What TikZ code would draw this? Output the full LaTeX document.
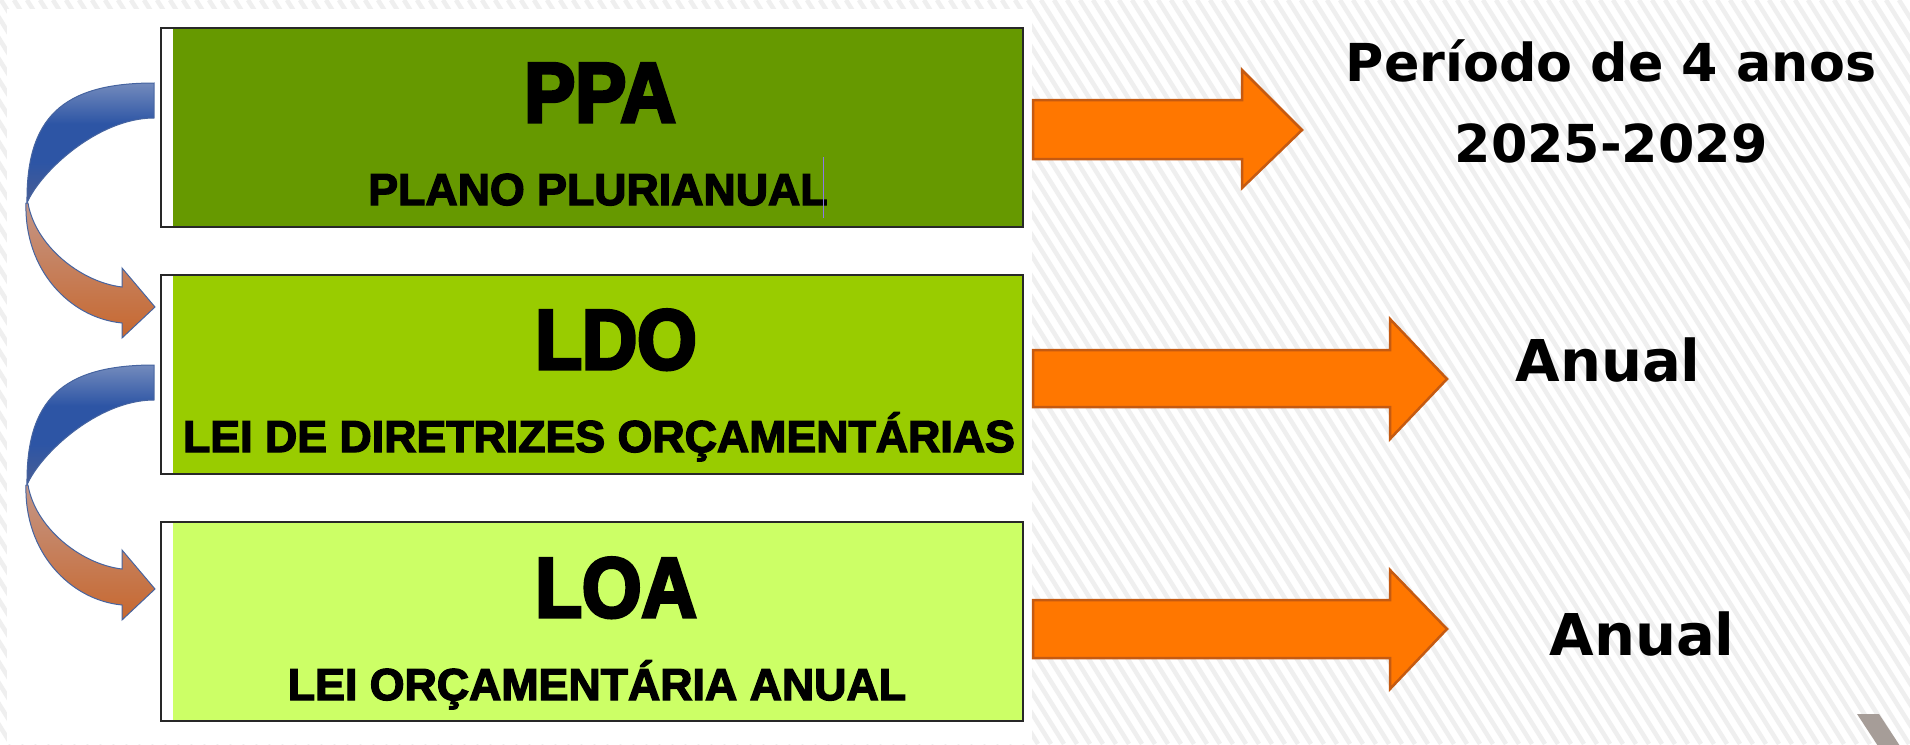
\documentclass[tikz,border=0pt]{standalone}
\usepackage{fontspec}
\newfontfamily\boxfont[FakeBold=3]{Liberation Sans}
\newfontfamily\titlefont[FakeStretch=0.9, FakeBold=4]{Liberation Sans}
\newfontfamily\sidefont{DejaVu Sans}
\definecolor{ppagreen}{RGB}{102,153,0}
\definecolor{ldogreen}{RGB}{153,204,0}
\definecolor{loagreen}{RGB}{204,255,102}
\definecolor{boxline}{RGB}{40,40,40}
\definecolor{arroworange}{RGB}{255,119,0}
\definecolor{arrowedge}{RGB}{197,90,17}
\definecolor{curvetop}{RGB}{185,192,212}
\definecolor{curveblue}{RGB}{45,85,165}
\definecolor{curvemid}{RGB}{95,100,135}
\definecolor{curvepink}{RGB}{196,150,135}
\definecolor{curveorange}{RGB}{200,90,20}
\definecolor{curveedge}{RGB}{70,100,160}
\definecolor{stripegray}{RGB}{239,239,239}
\definecolor{cornergray}{RGB}{166,157,152}
\definecolor{cursorblue}{RGB}{140,120,230}

\pgfdeclareverticalshading{curveupper}{100bp}{color(0bp)=(curvemid); color(12bp)=(curvemid);
    color(42bp)=(curveblue); color(58bp)=(curveblue); color(92bp)=(curvetop); color(100bp)=(curvetop)}
\pgfdeclareverticalshading{curvelower}{100bp}{color(0bp)=(curveorange); color(10bp)=(curveorange);
    color(75bp)=(curvepink); color(100bp)=(curvepink)}

\tikzset{
    box/.style={draw=boxline, line width=2pt, minimum width=862pt, minimum height=199pt, inner sep=0pt,
        path picture={\fill[white] (path picture bounding box.north west)
            rectangle ([xshift=12pt]path picture bounding box.south west);}},
    boxtitle/.style={anchor=base, inner sep=0pt, font=\titlefont\bfseries\fontsize{85}{90}\selectfont},
    boxsub/.style={anchor=base, inner sep=0pt, font=\boxfont\bfseries\fontsize{44.7}{50}\selectfont},
    sidelabel/.style={anchor=base, inner sep=0pt, font=\sidefont\bfseries\fontsize{52.3}{60}\selectfont},
    biglabel/.style={anchor=base, inner sep=0pt, font=\sidefont\bfseries\fontsize{57.6}{64}\selectfont},
    blockarrow/.style={fill=arroworange, draw=arrowedge, line width=2.5pt, line join=miter},
    curveedge/.style={draw=curveedge, line width=1pt},
    stripe/.style={draw=stripegray, line width=4.5pt},
}

\begin{document}
\begin{tikzpicture}[x=1pt, y=-1pt]
    \useasboundingbox (0,0) rectangle (1910,744);
    % Striped background with the white panel
    \begin{scope}
        \clip (0,0) rectangle (1910,744);
        \fill[white] (0,0) rectangle (1910,744);
        \foreach \x in {-480,-467,...,1910}
            \draw[stripe] (\x,0) -- ++(465,744);
        \fill[white] (7,9) rectangle (1032,744);
        \fill[cornergray] (1857,714) -- (1879,714) -- (1900,746) -- (1878,746) -- cycle;
    \end{scope}
    % Boxes
    \node[box, fill=ppagreen] (ppa) at (592,127) {};
    \node[box, fill=ldogreen] (ldo) at (592,374) {};
    \node[box, fill=loagreen] (loa) at (592,621) {};
    \node[boxtitle] (ppatitle) at (600,122) {PPA};
    \node[boxsub] (ppasub) at (598,205) {PLANO PLURIANUAL};
    \node[boxtitle] (ldotitle) at (616,369) {LDO};
    \node[boxsub] (ldosub) at (599,452) {LEI DE DIRETRIZES ORÇAMENTÁRIAS};
    \node[boxtitle] (loatitle) at (616,617) {LOA};
    \node[boxsub] (loasub) at (597,700) {LEI ORÇAMENTÁRIA ANUAL};
    \draw[cursorblue, line width=1pt] (823,157) -- (823,218);
    % Curved arrows between the boxes
    \foreach \dy in {0,282} {
        \begin{scope}[shift={(0,\dy)}]
            \path[curveedge, shading=curveupper]
                (154,83) .. controls (62,83) and (26,118) .. (27,203)
                .. controls (40,172) and (98,118) .. (154,118) -- cycle;
            \path[curveedge, shading=curvelower]
                (28,203) .. controls (35,245) and (80,282) .. (122,287)
                -- (122,268) -- (155,307) -- (122,338) -- (122,323)
                .. controls (70,318) and (24,270) .. (26,203) -- cycle;
        \end{scope}
    }
    % Orange arrows
    \draw[blockarrow] (1033,100) -- (1242,100) -- (1242,70) -- (1302,130)
        -- (1242,188) -- (1242,159) -- (1033,159) -- cycle;
    \draw[blockarrow] (1033,350) -- (1390,350) -- (1390,319) -- (1447,379)
        -- (1390,439) -- (1390,407) -- (1033,407) -- cycle;
    \draw[blockarrow] (1033,600) -- (1390,600) -- (1390,570) -- (1447,629)
        -- (1390,689) -- (1390,658) -- (1033,658) -- cycle;
    % Periods
    \node[sidelabel] (period) at (1611,81) {Período de 4 anos};
    \node[sidelabel] (years) at (1611,162) {2025-2029};
    \node[biglabel] (ldoperiod) at (1608,381) {Anual};
    \node[biglabel] (loaperiod) at (1642,655) {Anual};
\end{tikzpicture}
\end{document}
